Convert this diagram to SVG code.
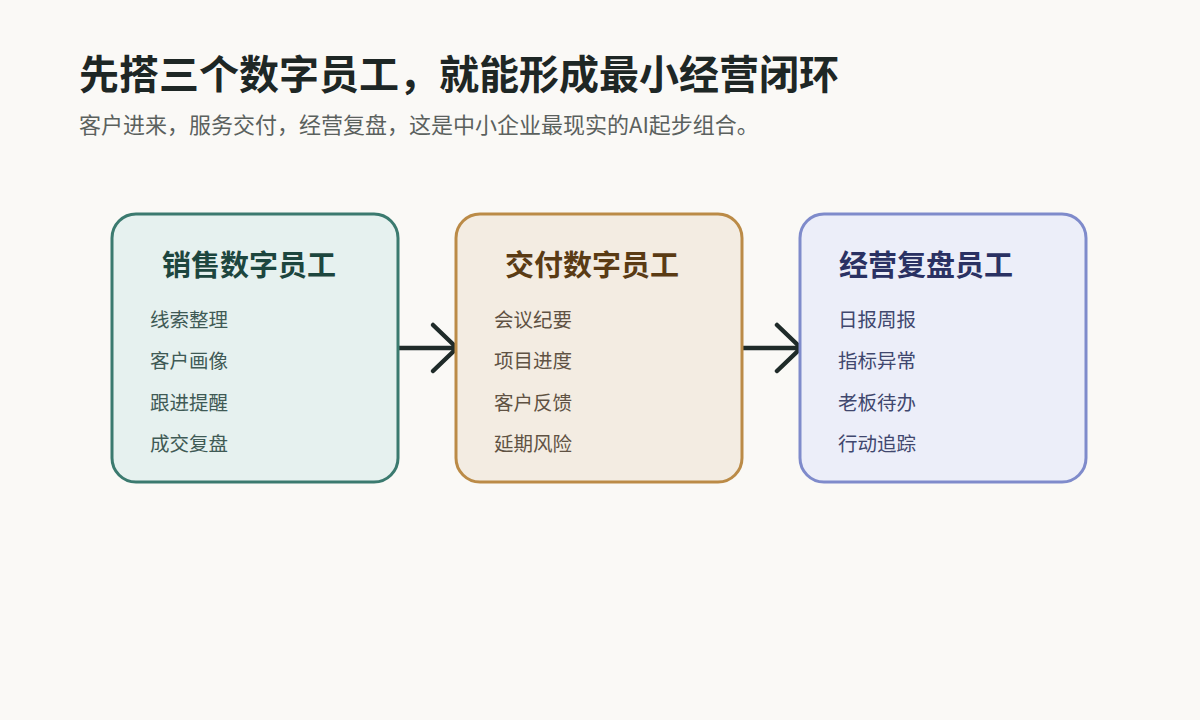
<svg xmlns="http://www.w3.org/2000/svg" width="1200" height="720" viewBox="0 0 1200 720">
<style>
text{font-family:"Noto Sans CJK SC","Noto Sans",sans-serif}
.h1{font-size:40px;font-weight:700;fill:#1e2725}
.sub{font-size:22px;fill:#5b615e}
.nt{font-size:29px;font-weight:700}
.it{font-size:19.5px}
.box{stroke-width:3}
.conn{fill:none;stroke:#1f2b29;stroke-width:4.5;stroke-linecap:round;stroke-linejoin:round}
</style>
<rect width="1200" height="720" fill="#faf9f6"/>
<text class="h1" x="79" y="89">先搭三个数字员工，就能形成最小经营闭环</text>
<text class="sub" x="79" y="133">客户进来，服务交付，经营复盘，这是中小企业最现实的AI起步组合。</text>
<g id="connectors">
<path class="conn" d="M398 348 H457 M433 325 L457 348 L433 371"/>
<path class="conn" d="M742 348 H801 M777 325 L801 348 L777 371"/>
</g>
<g id="sales">
<rect class="box" x="112" y="214" width="286" height="268" rx="24" fill="#e6f1ef" stroke="#3b7a6f"/>
<text class="nt" x="162" y="276" fill="#1d463e">销售数字员工</text>
<g class="it" fill="#3f5a55">
<text x="150" y="327">线索整理</text>
<text x="150" y="368">客户画像</text>
<text x="150" y="410">跟进提醒</text>
<text x="150" y="451">成交复盘</text>
</g>
</g>
<g id="delivery">
<rect class="box" x="456" y="214" width="286" height="268" rx="24" fill="#f3ece2" stroke="#bb8b47"/>
<text class="nt" x="505" y="276" fill="#5a3b14">交付数字员工</text>
<g class="it" fill="#5f5243">
<text x="494" y="327">会议纪要</text>
<text x="494" y="368">项目进度</text>
<text x="494" y="410">客户反馈</text>
<text x="494" y="451">延期风险</text>
</g>
</g>
<g id="review">
<rect class="box" x="800" y="214" width="286" height="268" rx="24" fill="#eceef9" stroke="#7f8bcb"/>
<text class="nt" x="839" y="276" fill="#2a3163">经营复盘员工</text>
<g class="it" fill="#40476e">
<text x="838" y="327">日报周报</text>
<text x="838" y="368">指标异常</text>
<text x="838" y="410">老板待办</text>
<text x="838" y="451">行动追踪</text>
</g>
</g>
</svg>
